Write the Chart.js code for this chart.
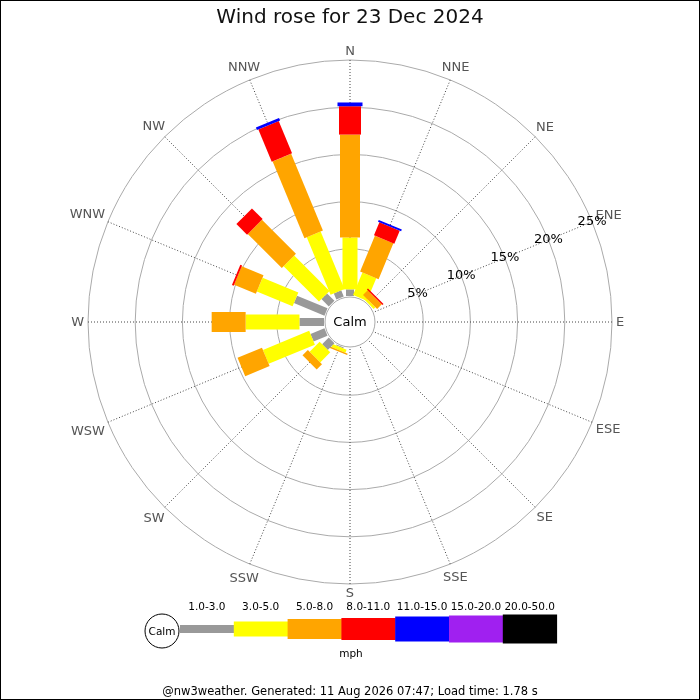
<!DOCTYPE html>
<html>
<head>
<meta charset="utf-8">
<title>Wind rose for 23 Dec 2024</title>
<script src="https://cdn.jsdelivr.net/npm/chart.js@4.4.1/dist/chart.umd.min.js"></script>
<style>
  html, body { margin: 0; padding: 0; background: #fff; }
  #wrap { width: 700px; height: 700px; }
</style>
</head>
<body>
<div id="wrap"><canvas id="rose-chart" width="700" height="700"></canvas></div>
<script>
// Directions (clockwise from N) and speed bins (mph)
const directions = ['N', 'NNE', 'NE', 'ENE', 'E', 'ESE', 'SE', 'SSE', 'S', 'SSW', 'SW', 'WSW', 'W', 'WNW', 'NW', 'NNW'];
const speedBins = ['1.0-3.0', '3.0-5.0', '5.0-8.0', '8.0-11.0', '11.0-15.0', '15.0-20.0', '20.0-50.0'];

// % of time per direction, for each speed bin
const bin1to3   = [0.7, 0, 0, 0, 0, 0, 0, 0, 0, 0.1, 1.0, 1.6, 2.6, 3.5, 1.1, 0.7];
const bin3to5   = [5.5, 2.6, 0.25, 0, 0, 0, 0, 0, 0, 0.35, 1.5, 5.3, 5.7, 4.1, 5.3, 6.6];
const bin5to8   = [10.9, 4.1, 0.7, 0, 0, 0, 0, 0, 0, 0.15, 0.8, 2.8, 3.6, 2.5, 5.1, 8.8];
const bin8to11  = [3.0, 1.5, 0.15, 0, 0, 0, 0, 0, 0, 0, 0, 0, 0, 0.2, 1.6, 3.7];
const bin11to15 = [0.4, 0.2, 0, 0, 0, 0, 0, 0, 0, 0, 0, 0, 0, 0, 0, 0.3];
const bin15to20 = [0, 0, 0, 0, 0, 0, 0, 0, 0, 0, 0, 0, 0, 0, 0, 0];
const bin20to50 = [0, 0, 0, 0, 0, 0, 0, 0, 0, 0, 0, 0, 0, 0, 0, 0];

// Radial ticks (%)
const radialTicks = [5, 10, 15, 20, 25];
const radialMax = 25;

// Styles
const binColors = ['#999999', '#ffff00', '#ffa500', '#ff0000', '#0000ff', '#a020f0', '#000000'];
const binWidths = [8, 15, 20, 22, 25, 27, 29];
const FONT = 'DejaVu Sans';

// Geometry of the rose (px)
const roseCenterY = 322;
const roseRadius = 262;
const zeroRadius = 26;   // 0% sits on the edge of the calm circle
const calmRadius = 25;
const labelPad = 4;

const seriesData = [bin1to3, bin3to5, bin5to8, bin8to11, bin11to15, bin15to20, bin20to50];

// Draw stacked bars, calm disc, labels, legend and footer
const windRosePlugin = {
  id: 'windRose',
  beforeDatasetsDraw(chart) {
    const r = chart.scales.r;
    const ctx = chart.ctx;
    ctx.save();
    ctx.beginPath();
    ctx.arc(r.xCenter, r.yCenter, calmRadius, 0, Math.PI * 2);
    ctx.fillStyle = '#fff';
    ctx.fill();
    ctx.strokeStyle = '#aaa';
    ctx.lineWidth = 1;
    ctx.stroke();
    ctx.restore();
  },
  afterDatasetsDraw(chart) {
    const r = chart.scales.r;
    const ctx = chart.ctx;

    directions.forEach((dir, i) => {
      let base = 0;
      const angle = r.getIndexAngle(i) - Math.PI / 2;
      chart.data.datasets.forEach((ds, k) => {
        const v = ds.data[i];
        if (!v) return;
        const r1 = r.getDistanceFromCenterForValue(base);
        const r2 = r.getDistanceFromCenterForValue(base + v);
        const w = binWidths[k];
        ctx.save();
        ctx.translate(r.xCenter, r.yCenter);
        ctx.rotate(angle);
        ctx.fillStyle = ds.backgroundColor;
        ctx.fillRect(r1, -w / 2, r2 - r1, w);
        ctx.restore();
        base += v;
      });
    });

    ctx.save();
    ctx.textAlign = 'center';
    ctx.textBaseline = 'middle';

    // Direction labels, centred just outside the outer ring
    ctx.fillStyle = '#555';
    ctx.font = '13px "' + FONT + '"';
    chart.data.labels.forEach((lab, i) => {
      const a = r.getIndexAngle(i);
      const w = ctx.measureText(lab).width;
      const extra = Math.abs(Math.cos(a)) * 5 + Math.abs(Math.sin(a)) * w / 2;
      const p = r.getPointPosition(i, roseRadius + labelPad + extra);
      ctx.fillText(lab, p.x, p.y + 1);
    });

    ctx.fillStyle = '#000';
    ctx.fillText('Calm', r.xCenter, r.yCenter + 1);

    // % labels along the ENE spoke
    const labelIndex = directions.indexOf('ENE');
    radialTicks.forEach((t) => {
      const p = r.getPointPosition(labelIndex, r.getDistanceFromCenterForValue(t));
      ctx.fillText(t + '%', p.x, p.y);
    });
    ctx.restore();
  },
  afterDraw(chart) {
    const ctx = chart.ctx;
    const W = chart.width;
    ctx.save();

    // Legend
    const legY = 629;
    const legX0 = 180;
    const segW = 53.8;
    ctx.beginPath();
    ctx.arc(162, 631, 17, 0, Math.PI * 2);
    ctx.fillStyle = '#fff';
    ctx.fill();
    ctx.strokeStyle = '#000';
    ctx.lineWidth = 1;
    ctx.stroke();
    ctx.fillStyle = '#000';
    ctx.textAlign = 'center';
    ctx.textBaseline = 'middle';
    ctx.font = '10.5px "' + FONT + '"';
    ctx.fillText('Calm', 162, 632);

    speedBins.forEach((label, k) => {
      const x = legX0 + k * segW;
      const h = binWidths[k];
      ctx.fillStyle = binColors[k];
      ctx.fillRect(x, legY - h / 2, segW + 0.5, h);
      ctx.fillStyle = '#000';
      ctx.fillText(label, x + segW / 2, 607);
    });
    ctx.fillText('mph', W / 2 + 1, 654);

    // Footer
    ctx.font = '11.5px "' + FONT + '"';
    ctx.fillText('@nw3weather. Generated: 11 Aug 2026 07:47; Load time: 1.78 s', W / 2, 692);

    // Frame
    ctx.strokeStyle = '#000';
    ctx.lineWidth = 1;
    ctx.strokeRect(0.5, 0.5, W - 1, chart.height - 1);
    ctx.restore();
  }
};

const ctx = document.getElementById('rose-chart').getContext('2d');
const roseChart = new Chart(ctx, {
  type: 'radar',
  data: {
    labels: directions,
    datasets: speedBins.map((bin, k) => ({
      label: bin,
      data: seriesData[k],
      backgroundColor: binColors[k],
      borderWidth: 0,
      fill: false,
      showLine: false,
      pointRadius: 0,
      pointHoverRadius: 0,
    })),
  },
  options: {
    responsive: false,
    animation: false,
    events: [],
    layout: { padding: 0 },
    plugins: {
      legend: { display: false },
      tooltip: { enabled: false },
      filler: { propagate: false },
      title: {
        display: true,
        text: 'Wind rose for 23 Dec 2024',
        color: '#111',
        font: { family: FONT, size: 20, weight: 'normal' },
        padding: { top: 6, bottom: 2 },
      },
    },
    scales: {
      r: {
        min: -radialMax * zeroRadius / (roseRadius - zeroRadius),
        max: radialMax,
        afterBuildTicks: (scale) => {
          scale.ticks = radialTicks.map((v) => ({ value: v }));
        },
        afterSetDimensions: (scale) => {
          scale.xCenter = scale.chart.width / 2;
          scale.yCenter = roseCenterY;
          scale.drawingArea = roseRadius;
        },
        ticks: { display: false },
        grid: { circular: true, color: '#aaa', lineWidth: 1 },
        angleLines: { display: true, color: '#444', lineWidth: 1, borderDash: [1, 2] },
        pointLabels: { display: false },
      },
    },
  },
  plugins: [windRosePlugin],
});
</script>
</body>
</html>
